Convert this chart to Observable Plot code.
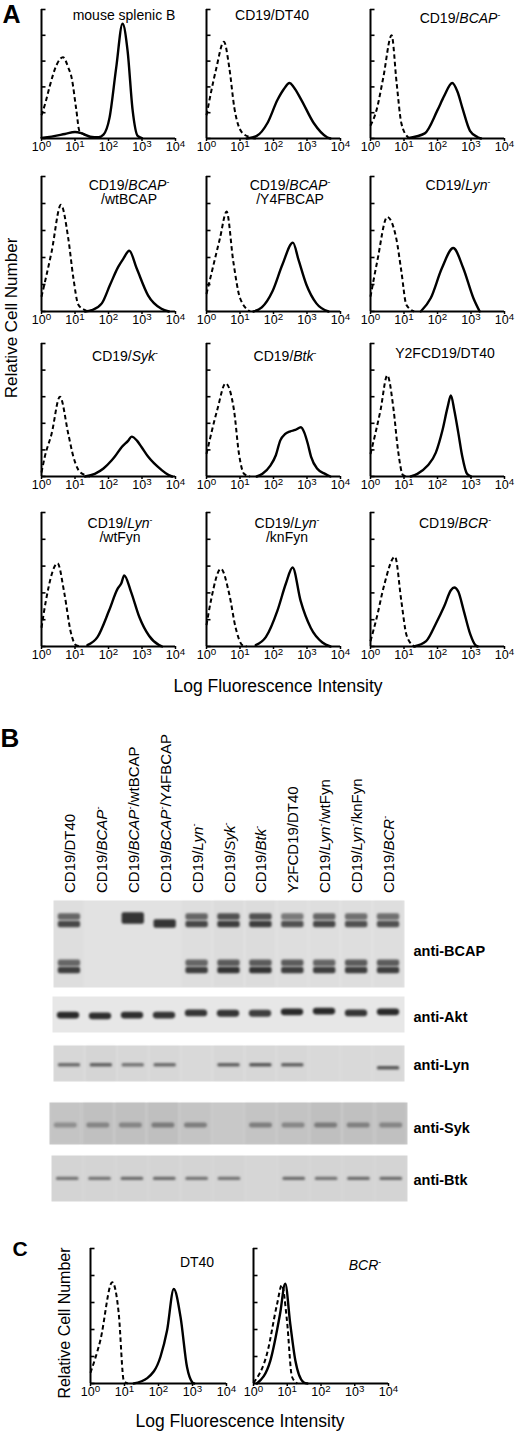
<!DOCTYPE html>
<html><head><meta charset="utf-8">
<script src="https://cdn.jsdelivr.net/npm/d3@7"></script>
<script src="https://cdn.jsdelivr.net/npm/@observablehq/plot@0.6"></script>
<style>
html,body{margin:0;padding:0;background:#fff;}
#fig{position:relative;width:520px;height:1433px;overflow:hidden;font-family:"Liberation Sans",Arial,Helvetica,sans-serif;color:#000;}
#fig svg{position:absolute;overflow:visible;}
.lbl{position:absolute;white-space:nowrap;line-height:1;}
.panel{font-weight:bold;}
.ttl{font-size:14px;line-height:14.5px;text-align:center;}
.sm{font-size:0.62em;vertical-align:0.55em;}
.blot g[aria-label="rect"] rect{filter:blur(0.8px);}
</style></head><body><div id="fig"></div>
<script>
// ---------- DATA ----------
const decades = [0, 1, 2, 3, 4];
const yTicks = [0, 20, 40, 60, 80, 100];

// Panel A histograms: [log10 fluorescence, relative cell number (%)]
const splenicCtrl = [[0,18],[0.12,28],[0.24,40],[0.45,57],[0.64,63],[0.8,55],[0.9,47],[1.04,22],[1.13,6],[1.37,2],[1.55,0.5]];
const splenicCD19 = [[0,0.5],[0.3,1.5],[0.7,3.5],[1.0,5],[1.2,4],[1.45,1.5],[1.7,1],[1.85,3],[2.03,16],[2.23,55],[2.42,89],[2.57,68],[2.72,22],[2.87,2],[3.0,0.3]];
const dt40Ctrl = [[0,18],[0.28,53],[0.52,75],[0.68,55],[0.83,24],[1.05,5],[1.3,1],[1.5,0]];
const dt40CD19 = [[1.2,0],[1.5,2],[1.82,12],[2.12,30],[2.3,38],[2.48,43],[2.6,40],[2.83,30],[3.2,12],[3.6,1],[3.7,0]];
const bcapCtrl = [[0,10],[0.18,22],[0.38,47],[0.63,80],[0.78,43],[0.92,12],[1.12,1],[1.2,0]];
const bcapCD19 = [[1.15,0.5],[1.62,4],[2.0,22],[2.2,33],[2.44,43],[2.6,36],[2.74,24],[2.97,6],[3.2,1],[3.3,0]];
const wtBcapCtrl = [[0,11],[0.3,44],[0.58,79],[0.8,54],[0.95,25],[1.1,5],[1.3,1],[1.4,0]];
const wtBcapCD19 = [[1.3,0],[1.5,1],[1.8,6],[2.05,20],[2.29,33],[2.44,39],[2.62,45],[2.84,32],[3.18,12],[3.58,2],[3.8,0]];
const y4fBcapCtrl = [[0,13],[0.4,54],[0.6,74],[0.8,37],[1.0,10],[1.3,0]];
const y4fBcapCD19 = [[1.4,0],[1.65,3],[1.97,15],[2.27,35],[2.58,51],[2.75,38],[2.98,20],[3.28,6],[3.64,0]];
const lynCtrl = [[0,11],[0.2,37],[0.5,70],[0.77,54],[0.92,30],[1.07,5],[1.3,0]];
const lynCD19 = [[1.5,0],[1.8,10],[2.13,32],[2.47,47],[2.77,32],[3.07,10],[3.26,0]];
const sykCtrl = [[0,3],[0.1,15],[0.3,32],[0.55,60],[0.8,32],[0.95,15],[1.1,5],[1.3,1],[1.45,0]];
const sykCD19 = [[1.3,0],[1.59,2],[1.85,6],[2.09,12],[2.19,15],[2.39,22],[2.59,27],[2.69,30],[2.85,27],[2.99,22],[3.18,15],[3.58,5],[3.8,1],[3.9,0]];
const btkCtrl = [[0,17],[0.32,50],[0.57,70],[0.82,50],[0.97,17],[1.12,2],[1.3,0]];
const btkCD19 = [[1.5,0],[1.67,2],[1.9,8],[2.07,16],[2.2,27],[2.35,32],[2.5,34],[2.65,35],[2.82,37],[2.92,33],[3.02,25],[3.12,15],[3.3,6],[3.54,2],[3.7,0]];
const y2fCtrl = [[0,17],[0.3,50],[0.5,76],[0.69,50],[0.82,20],[0.97,1],[1.1,0]];
const y2fCD19 = [[1.2,0],[1.4,2],[1.7,8],[1.95,18],[2.15,35],[2.3,52],[2.4,61],[2.5,50],[2.62,33],[2.74,15],[2.88,2],[3.0,0]];
const wtFynCtrl = [[0,14],[0.13,34],[0.48,62],[0.68,40],[0.88,10],[1.03,1],[1.2,0]];
const wtFynCD19 = [[1.37,1],[1.67,7],[2.02,27],[2.27,43],[2.38,47],[2.47,53],[2.67,41],[2.92,22],[3.21,8],[3.51,1],[3.6,0]];
const knFynCtrl = [[0,16],[0.13,34],[0.43,58],[0.68,39],[0.87,14],[1.07,1],[1.2,0]];
const knFynCD19 = [[1.47,1],[1.77,7],[2.12,27],[2.37,47],[2.57,59],[2.81,34],[3.11,14],[3.46,3],[3.7,0]];
const bcrCtrl = [[0,4],[0.19,22],[0.4,45],[0.73,67],[0.92,34],[1.07,9],[1.26,1],[1.35,0]];
const bcrCD19 = [[1.3,0],[1.66,4],[1.95,17],[2.2,30],[2.4,42],[2.5,44],[2.62,41],[2.78,27],[2.98,9],[3.13,1],[3.2,0]];

const histTitles = ["mouse splenic B","CD19/DT40","CD19/*BCAP*⁻","CD19/*BCAP*⁻\n/wtBCAP","CD19/*BCAP*⁻\n/Y4FBCAP","CD19/*Lyn*⁻",
                    "CD19/*Syk*⁻","CD19/*Btk*⁻","Y2FCD19/DT40","CD19/*Lyn*⁻\n/wtFyn","CD19/*Lyn*⁻\n/knFyn","CD19/*BCR*⁻"];
const histCtrl = [splenicCtrl, dt40Ctrl, bcapCtrl, wtBcapCtrl, y4fBcapCtrl, lynCtrl, sykCtrl, btkCtrl, y2fCtrl, wtFynCtrl, knFynCtrl, bcrCtrl];
const histCD19 = [splenicCD19, dt40CD19, bcapCD19, wtBcapCD19, y4fBcapCD19, lynCD19, sykCD19, btkCD19, y2fCD19, wtFynCD19, knFynCD19, bcrCD19];

// Panel C histograms
const cTitles = ["DT40", "*BCR*⁻"];
const cDt40Ctrl = [[0,8],[0.29,32],[0.64,75],[0.83,52],[0.98,2],[1.1,0]];
const cDt40Anti = [[1.27,0],[1.67,4],[2.06,20],[2.25,39],[2.45,70],[2.65,49],[2.84,12],[2.99,1],[3.05,0]];
const cBcrCtrl = [[0,0.5],[0.4,22],[0.7,59],[0.84,73],[0.99,47],[1.14,5],[1.3,0]];
const cBcrAnti = [[0.1,0],[0.5,17],[0.79,52],[0.94,74],[1.09,44],[1.24,17],[1.48,1],[1.6,0]];

// Panel B: lanes and band intensities (0 = no band)
const laneLabels = ["CD19/DT40","CD19/*BCAP*⁻","CD19/*BCAP*⁻/wtBCAP","CD19/*BCAP*⁻/Y4FBCAP","CD19/*Lyn*⁻","CD19/*Syk*⁻",
                    "CD19/*Btk*⁻","Y2FCD19/DT40","CD19/*Lyn*⁻/wtFyn","CD19/*Lyn*⁻/knFyn","CD19/*BCR*⁻"];
const blotNames = ["anti-BCAP","anti-Akt","anti-Lyn","anti-Syk","anti-Btk"];
// anti-BCAP band rows (relative migration 0 = top of strip)
const bcapRowMigration = [0.19, 0.276, 0.72, 0.805, 0.207, 0.27];
const bcapRowIntensity = [
  [0.6,0,0,0,0.6,0.7,0.7,0.5,0.6,0.55,0.55],
  [0.75,0,0,0,0.75,0.8,0.8,0.7,0.75,0.7,0.7],
  [0.6,0,0,0,0.6,0.65,0.65,0.65,0.6,0.65,0.65],
  [0.8,0,0,0,0.8,0.85,0.85,0.8,0.8,0.8,0.8],
  [0,0,0.85,0,0,0,0,0,0,0,0],
  [0,0,0,0.85,0,0,0,0,0,0,0]];
const aktMigration = [0.53,0.55,0.53,0.53,0.47,0.48,0.48,0.44,0.42,0.47,0.44];
const aktIntensity = [0.9,0.88,0.88,0.85,0.85,0.85,0.8,0.9,0.9,0.85,0.9];
const lynMigration = [0.55,0.55,0.55,0.55,0.55,0.55,0.55,0.55,0.55,0.55,0.63];
const lynIntensity = [0.55,0.6,0.5,0.55,0,0.6,0.65,0.6,0,0,0.65];
const sykIntensity = [0.3,0.35,0.35,0.4,0.4,0,0.4,0.35,0.4,0.38,0.35];
const btkIntensity = [0.5,0.5,0.55,0.55,0.5,0.5,0,0.55,0.5,0.55,0.55];

// ---------- LAYOUT ----------
const FONT = '"Liberation Sans", Arial, Helvetica, sans-serif';
const fig = document.getElementById("fig");
const colX = [41, 206, 370];
const rowTop = [9, 176, 343, 512];
const rowH = [129, 135, 133, 134];
const titleCX = [124, 272, 460, 129, 290, 458, 125, 285, 445, 120, 287, 455];
const titleCY = [15, 182, 353, 520];

function rich(s) {
  return s.replace(/\*(.+?)\*/g, "<i>$1</i>").replace(/⁻/g, '<span class="sm">-</span>').replace(/\n/g, "<br>");
}
function addLabel(html, cls, css) {
  const d = document.createElement("div");
  d.className = "lbl " + cls; d.innerHTML = html;
  Object.assign(d.style, css); fig.appendChild(d); return d;
}
function supers(svg) {
  svg.querySelectorAll('g[aria-label="x-axis tick label"] text').forEach(t => {
    const m = t.textContent.match(/^10\^(\d)$/);
    if (!m) return;
    t.textContent = "10";
    const ts = document.createElementNS("http://www.w3.org/2000/svg", "tspan");
    ts.setAttribute("dy", "-0.45em"); ts.setAttribute("font-size", "0.78em");
    ts.textContent = m[1]; t.appendChild(ts);
  });
}
function hist(f, ctrl, anti) {
  const mL = 10, mR = 16, mT = 4, mB = 22;
  const svg = Plot.plot({
    width: f.w + mL + mR, height: f.h + mT + mB,
    marginLeft: mL, marginRight: mR, marginTop: mT, marginBottom: mB,
    x: {domain: [0, 4], label: null},
    y: {domain: [0, 100], axis: null},
    style: {fontFamily: FONT, fontSize: "12.5px", background: "none", color: "#000"},
    marks: [
      Plot.ruleY(yTicks, {x1: () => 0, x2: () => 4 * 4.5 / f.w, stroke: "#000", strokeWidth: 1.6}),
      Plot.line(ctrl, {x: d => d[0], y: d => d[1], curve: "monotone-x", stroke: "#000", strokeWidth: 2, strokeDasharray: "4.5,3", strokeLinecap: "butt"}),
      Plot.line(anti, {x: d => d[0], y: d => d[1], curve: "monotone-x", stroke: "#000", strokeWidth: 2.4}),
      Plot.ruleX([0], {stroke: "#000", strokeWidth: 2}),
      Plot.ruleY([0], {stroke: "#000", strokeWidth: 2}),
      Plot.axisX({ticks: decades, tickSize: 3, tickPadding: 1, tickFormat: d => "10^" + d, stroke: "#000", fill: "#000", strokeWidth: 1.5, fontSize: 12.5})
    ]
  });
  svg.style.left = (f.left - mL) + "px";
  svg.style.top = (f.top - mT) + "px";
  supers(svg);
  fig.appendChild(svg);
}

// Panel A
for (let i = 0; i < 12; i++) {
  const r = Math.floor(i / 3), c = i % 3;
  hist({left: colX[c], top: rowTop[r], w: 134, h: rowH[r]}, histCtrl[i], histCD19[i]);
  addLabel(rich(histTitles[i]), "ttl", {left: titleCX[i] + "px", top: (titleCY[r] - 7.25) + "px", transform: "translateX(-50%)"});
}
addLabel("A", "panel", {fontSize: "25px", left: "11.5px", top: "14px", transform: "translate(-50%,-50%)"});
addLabel("Relative Cell Number", "", {fontSize: "17px", left: "11px", top: "318px", transform: "translate(-50%,-50%) rotate(-90deg)"});
addLabel("Log Fluorescence Intensity", "", {fontSize: "17.5px", left: "278px", top: "687px", transform: "translate(-50%,-50%)"});

// Panel B
addLabel("B", "panel", {fontSize: "26px", left: "10px", top: "737.5px", transform: "translate(-50%,-50%)"});
const blotLeft = 53, blotRight = 404;
const laneIdx = d3.range(11);
laneLabels.forEach((s, i) => {
  const x = blotLeft + (i + 0.5) * (blotRight - blotLeft) / 11;
  addLabel(rich(s), "", {fontSize: "15px", left: x + "px", top: "893px", transformOrigin: "0 0", transform: "rotate(-90deg) translateY(-50%)"});
});
function blot(b) {
  const bands = [];
  b.rows.forEach(r => laneIdx.forEach(i => {
    const v = r.int[i];
    if (v > 0) bands.push({lane: i, pos: Array.isArray(r.pos) ? r.pos[i] : r.pos, th: r.th, v});
  }));
  const svg = Plot.plot({
    width: 520, height: b.h,
    marginLeft: b.left, marginRight: 520 - b.right, marginTop: 0, marginBottom: 0,
    x: {domain: [-0.5, 10.5], axis: null},
    y: {domain: [0, 1], reverse: true, axis: null},
    style: {fontFamily: FONT, background: "none", color: "#000"},
    marks: [
      Plot.frame({fill: b.bg, stroke: null}),
      Plot.rect(laneIdx, {x1: i => i - 0.47, x2: i => i + 0.47, y1: () => 0, y2: () => 1, fill: "#000", fillOpacity: i => b.smear[i]}),
      Plot.rect(bands, {x1: d => d.lane - 0.35, x2: d => d.lane + 0.35, y1: d => d.pos - d.th / 2, y2: d => d.pos + d.th / 2,
        rx: b.rx, fill: "#151515", fillOpacity: d => d.v}),
      Plot.text([b.label], {frameAnchor: "right", dx: 9 + (404 - b.right), dy: b.dy, textAnchor: "start", fontSize: 14.5, fontWeight: "bold", fill: "#000"})
    ]
  });
  svg.classList.add("blot");
  svg.style.left = "0px"; svg.style.top = b.top + "px";
  fig.appendChild(svg);
}
blot({label: blotNames[0], top: 900, h: 87, left: 53, right: 404, bg: "#e2e2e2", rx: 2, dy: 7,
  smear: [0.015,0,0,0,0.015,0.025,0.025,0.015,0.015,0.015,0.015],
  rows: bcapRowMigration.map((p, k) => ({pos: p, th: k < 4 ? 0.075 : (k === 4 ? 0.13 : 0.1), int: bcapRowIntensity[k]}))});
blot({label: blotNames[1], top: 996, h: 36, left: 52, right: 404, bg: "#e7e7e7", rx: 3.5, dy: 3,
  smear: laneIdx.map(() => 0), rows: [{pos: aktMigration, th: 0.19, int: aktIntensity}]});
blot({label: blotNames[2], top: 1045, h: 36, left: 53, right: 404, bg: "#dcdcdc", rx: 1.5, dy: 2,
  smear: [0.02,0.03,0.02,0.02,0.01,0.02,0.02,0.02,0.01,0.01,0.01], rows: [{pos: lynMigration, th: 0.1, int: lynIntensity}]});
blot({label: blotNames[3], top: 1102, h: 42, left: 49, right: 407, bg: "#cbcbcb", rx: 2, dy: 5,
  smear: [0.03,0.05,0.05,0.06,0.03,0.01,0.03,0.04,0.06,0.05,0.05], rows: [{pos: 0.55, th: 0.12, int: sykIntensity}]});
blot({label: blotNames[4], top: 1155, h: 46, left: 51, right: 407, bg: "#d7d7d7", rx: 1.5, dy: 2,
  smear: [0.01,0.01,0.01,0.01,0.01,0.01,0.005,0.01,0.01,0.01,0.01], rows: [{pos: 0.51, th: 0.07, int: btkIntensity}]});

// Panel C
addLabel("C", "panel", {fontSize: "21px", left: "20px", top: "1247.5px", transform: "translate(-50%,-50%)"});
hist({left: 90, top: 1248, w: 136, h: 135}, cDt40Ctrl, cDt40Anti);
hist({left: 253, top: 1248, w: 135, h: 135}, cBcrCtrl, cBcrAnti);
addLabel(rich(cTitles[0]), "ttl", {left: "197px", top: (1262 - 7.25) + "px", transform: "translateX(-50%)"});
addLabel(rich(cTitles[1]), "ttl", {left: "365px", top: (1262 - 7.25) + "px", transform: "translateX(-50%)"});
addLabel("Relative Cell Number", "", {fontSize: "16px", left: "65px", top: "1323px", transform: "translate(-50%,-50%) rotate(-90deg)"});
addLabel("Log Fluorescence Intensity", "", {fontSize: "17.5px", left: "240px", top: "1422px", transform: "translate(-50%,-50%)"});
</script></body></html>
